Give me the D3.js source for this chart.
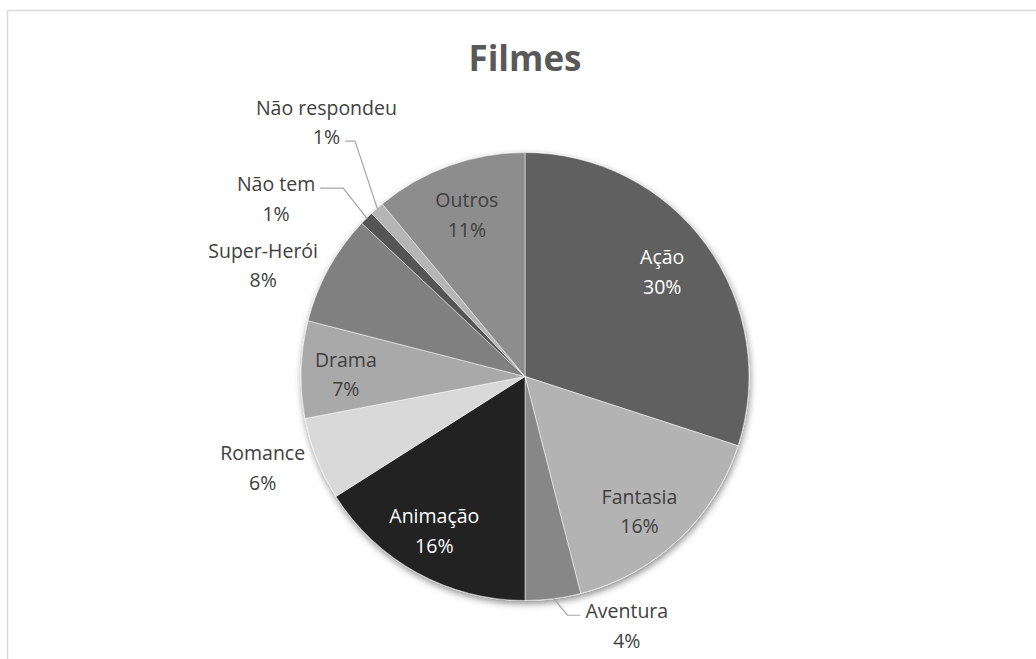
<!DOCTYPE html>
<html>
<head>
<meta charset="utf-8">
<script src="https://cdn.jsdelivr.net/npm/d3@7"></script>
<style>
  html, body { margin: 0; padding: 0; background: #fff; }
  svg { display: block; }
</style>
</head>
<body>
<svg id="chart" width="1036" height="659"></svg>
<script>
// Film genre preferences (percent of answers)
const categories = ["Ação", "Fantasia", "Aventura", "Animação", "Romance", "Drama",
                    "Super-Herói", "Não tem", "Não respondeu", "Outros"];
const values = [30, 16, 4, 16, 6, 7, 8, 1, 1, 11];
const sliceColors = ["#606060", "#b3b3b3", "#878787", "#222222", "#d9d9d9", "#a9a9a9",
                     "#808080", "#555555", "#b5b5b5", "#8d8d8d"];
const title = "Filmes";

// Label placement relative to each slice: radius as a share of the pie radius,
// angular shift from the slice middle (degrees), text colour, optional leader line.
const labelLayout = {
  "Ação":          { r: 0.77, shift: -1.3, fill: "#ffffff" },
  "Fantasia":      { r: 0.79, shift: 2.9,  fill: "#404040" },
  "Aventura":      { r: 1.203, shift: -15, fill: "#404040", leader: { line: 0, side: "left", elbow: 13 } },
  "Animação":      { r: 0.80, shift: 1.6,  fill: "#ffffff" },
  "Romance":       { r: 1.24, shift: 2.4,  fill: "#404040" },
  "Drama":         { r: 0.80, shift: -1.2, fill: "#404040" },
  "Super-Herói":   { r: 1.27, shift: -5.8, fill: "#404040" },
  "Não tem":       { r: 1.365, shift: -9.5, fill: "#404040", leader: { line: 0, side: "right", elbow: 23 } },
  "Não respondeu": { r: 1.44, shift: 3.4,  fill: "#404040", leader: { line: 1, side: "right", elbow: 10 } },
  "Outros":        { r: 0.766, shift: 0,   fill: "#404040" }
};

const width = 1036, height = 659;
const cx = 525, cy = 376.5, radius = 224;
const lineGap = 29.5;

const svg = d3.select("#chart");

// chart frame
svg.append("rect")
  .attr("x", 7.5).attr("y", 10.5)
  .attr("width", width + 20).attr("height", height + 20)
  .attr("fill", "#fff").attr("stroke", "#d9d9d9").attr("stroke-width", 1.5);

// soft shadow beneath the pie
const defs = svg.append("defs");
const f = defs.append("filter").attr("id", "pieShadow")
  .attr("x", "-20%").attr("y", "-20%").attr("width", "140%").attr("height", "140%");
f.append("feDropShadow").attr("dx", 1).attr("dy", 3).attr("stdDeviation", 3.5)
  .attr("flood-color", "#000").attr("flood-opacity", 0.45);

svg.append("text")
  .attr("x", cx).attr("y", 70.5)
  .attr("text-anchor", "middle")
  .attr("font-family", "'Open Sans', sans-serif")
  .attr("font-weight", 700)
  .attr("font-size", 35)
  .attr("fill", "#595959")
  .text(title);

const data = categories.map((c, i) => ({ category: c, value: values[i], color: sliceColors[i] }));
const total = d3.sum(values);
const pct = d3.format(".0%");

const pie = d3.pie().value(d => d.value).sort(null);
const arcs = pie(data);
const arc = d3.arc().innerRadius(0).outerRadius(radius);

const g = svg.append("g").attr("transform", `translate(${cx},${cy})`);

g.append("g").attr("filter", "url(#pieShadow)")
  .selectAll("path")
  .data(arcs)
  .join("path")
  .attr("d", arc)
  .attr("fill", d => d.data.color)
  .attr("stroke", "#ffffff")
  .attr("stroke-width", 0.5)
  .attr("stroke-linejoin", "round");

const midAngle = d => (d.startAngle + d.endAngle) / 2;
const polar = (a, r) => [r * Math.sin(a), -r * Math.cos(a)];

const labels = g.append("g")
  .attr("font-family", "'Open Sans', sans-serif")
  .attr("font-size", 19.5);

arcs.forEach(d => {
  const lay = labelLayout[d.data.category];
  const a = midAngle(d) + lay.shift * Math.PI / 180;
  const [lx, ly] = polar(a, radius * lay.r);
  const lines = [d.data.category, pct(d.data.value / total)];

  const t = labels.append("text")
    .attr("text-anchor", "middle")
    .attr("fill", lay.fill);
  const tspans = lines.map((s, i) =>
    t.append("tspan")
      .attr("x", lx)
      .attr("y", ly + (i - 0.5) * lineGap)
      .attr("dy", "0.36em")
      .text(s));

  if (lay.leader) {
    const box = tspans[lay.leader.line].node().getBBox();
    const yy = ly + (lay.leader.line - 0.5) * lineGap + 4;
    const endX = lay.leader.side === "left" ? box.x - 5 : box.x + box.width + 5;
    const elbowX = lay.leader.side === "left" ? endX - lay.leader.elbow : endX + lay.leader.elbow;
    const [sx, sy] = polar(midAngle(d), radius - 1);
    labels.append("path")
      .attr("d", d3.line()([[sx, sy], [elbowX, yy], [endX, yy]]))
      .attr("fill", "none")
      .attr("stroke", "#a6a6a6")
      .attr("stroke-width", 1.2);
  }
});
</script>
</body>
</html>
